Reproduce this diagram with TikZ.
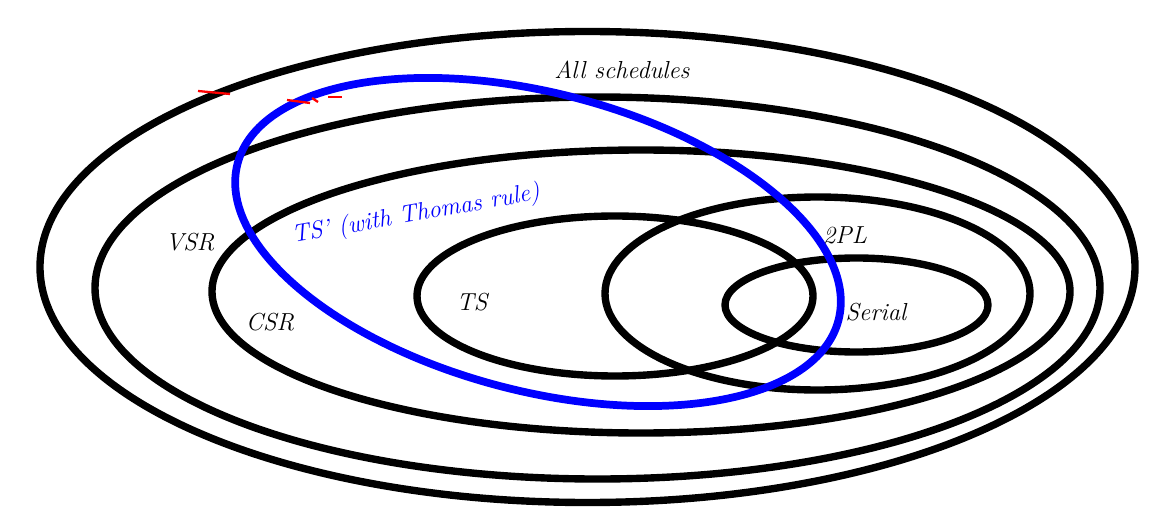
\documentclass[tikz,border=0pt]{standalone}
\begin{document}
\begin{tikzpicture}
\tikzset{
  setline/.style={draw=black, line width=4.2pt},
  blueline/.style={draw=blue, line width=4.4pt},
  lbl/.style={font=\fontsize{14}{16}\selectfont\itshape, inner sep=0pt},
  redmark/.style={draw=red, line width=1.3pt}
}
\useasboundingbox (0,0) rectangle (22.98,10.30);
% sets
\draw[setline] (11.75,4.96) ellipse [x radius=10.95cm, y radius=4.71cm];
\draw[setline] (11.95,4.54) ellipse [x radius=10.05cm, y radius=3.82cm];
\draw[setline] (12.82,4.47) ellipse [x radius=8.58cm, y radius=2.83cm];
\draw[setline] (16.35,4.43) ellipse [x radius=4.25cm, y radius=1.93cm];
\draw[setline] (12.30,4.38) ellipse [x radius=3.96cm, y radius=1.60cm];
\draw[setline] (17.13,4.20) ellipse [x radius=2.63cm, y radius=0.94cm];
\draw[blueline, rotate around={-14.6:(10.76,5.46)}] (10.76,5.46) ellipse [x radius=6.21cm, y radius=2.98cm];
% labels
\node[lbl] (all) at (12.44,8.90) {All schedules};
\node[lbl] (vsr) at (3.80,5.46) {VSR};
\node[lbl] (csr) at (5.40,3.86) {CSR};
\node[lbl] (ts) at (9.44,4.26) {TS};
\node[lbl] (tpl) at (16.90,5.60) {2PL};
\node[lbl] (ser) at (17.52,4.06) {Serial};
\node[lbl, text=blue, rotate=10] (tsp) at (8.32,6.00) {TS' (with Thomas rule)};
% small red marks
\draw[redmark] (3.96,8.48) -- (4.60,8.42);
\draw[redmark] (5.74,8.30) -- (6.20,8.24);
\draw[redmark] (6.24,8.34) -- (6.36,8.26);
\draw[redmark] (6.56,8.36) -- (6.84,8.36);
\end{tikzpicture}
\end{document}
